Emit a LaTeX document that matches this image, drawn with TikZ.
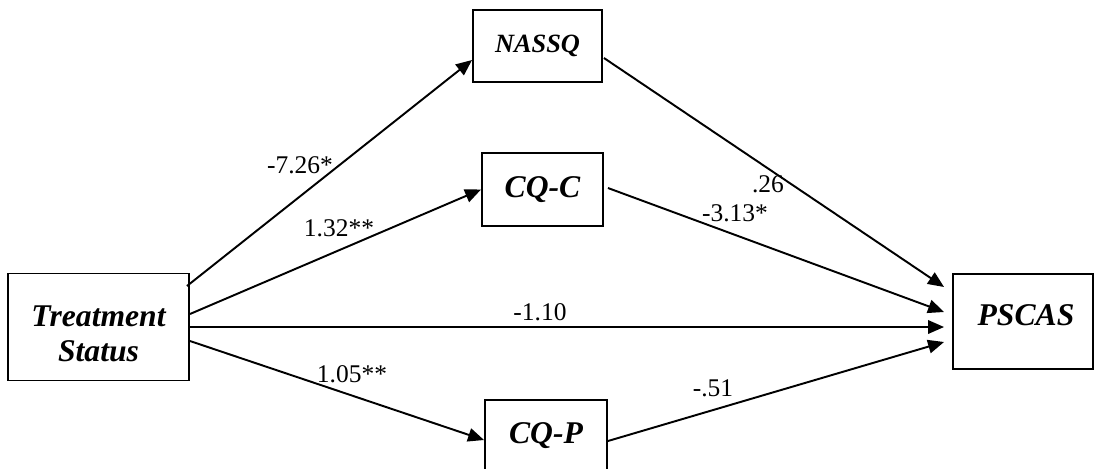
\documentclass[tikz,border=0pt]{standalone}
\usepackage{fontspec}
\setmainfont{Liberation Serif}
\usepackage{tikz}
\usetikzlibrary{arrows.meta,calc}
\tikzstyle{varbox} = [draw=black, line width=1.1pt, fill=white, align=center, inner sep=0pt, font={\fontsize{18}{20}\selectfont\bfseries\itshape}]
\tikzstyle{vartext} = [anchor=center, align=center, inner sep=0pt, font={\fontsize{18}{20}\selectfont\bfseries\itshape}]
\tikzstyle{coef} = [anchor=center, inner sep=0pt, font={\fontsize{14.5}{16}\selectfont}]
\tikzstyle{effect} = [line width=1.1pt, -{Triangle[length=0.32cm,width=0.27cm]}]
\tikzset{font={\small}}

\begin{document}
\begin{tikzpicture}[x=0.02cm, y=-0.02cm]
  \useasboundingbox (0,0) rectangle (1095,468);

  % variables
  \node[at={(98.5,327)}, varbox, minimum width=3.62cm, minimum height=2.14cm] (treat) {};
  \node[at={($(treat.center)+(0,7)$)}, vartext] (treattext) {Treatment\\Status};
  \node[at={(537.5,46)}, varbox, minimum width=2.58cm, minimum height=1.44cm, font={\fontsize{15}{17}\selectfont\bfseries\itshape}] (nassq) {NASSQ};
  \node[at={(542.5,189.5)}, varbox, minimum width=2.42cm, minimum height=1.46cm] (cqc) {CQ-C};
  \node[at={(546,436)}, varbox, minimum width=2.44cm, minimum height=1.44cm] (cqp) {CQ-P};
  \node[at={(1023,321.5)}, varbox, minimum width=2.80cm, minimum height=1.90cm] (pscas) {};
  \node[at={($(pscas.center)+(3,-6)$)}, vartext] (pscastext) {PSCAS};

  % paths
  \draw[effect] ($(treat.east)+(-3,-41)$) -- ($(nassq.west)+(0,14)$);
  \draw[effect] ($(treat.east)+(0,-13)$) -- (cqc.west);
  \draw[effect] (treat.east) -- ($(pscas.west)+(-8,5.5)$);
  \draw[effect] ($(treat.east)+(0,14)$) -- ($(cqp.west)+(0,4)$);
  \draw[effect] ($(nassq.east)+(1,12)$) -- ($(pscas.west)+(-8,-34.5)$);
  \draw[effect] ($(cqc.east)+(4,-1.5)$) -- ($(pscas.west)+(-8,-9.5)$);
  \draw[effect] ($(cqp.east)+(0,5)$) -- ($(pscas.west)+(-8,20.5)$);

  % coefficients
  \node[at={(300,165)}, coef] (bnassq) {-7.26*};
  \node[at={(339,228)}, coef] (bcqc) {1.32**};
  \node[at={(540,312)}, coef] (bdirect) {-1.10};
  \node[at={(352,374)}, coef] (bcqp) {1.05**};
  \node[at={(768,184)}, coef] (bnassqout) {.26};
  \node[at={(735,213)}, coef] (bcqcout) {-3.13*};
  \node[at={(713,388)}, coef] (bcqpout) {-.51};

\end{tikzpicture}
\end{document}
